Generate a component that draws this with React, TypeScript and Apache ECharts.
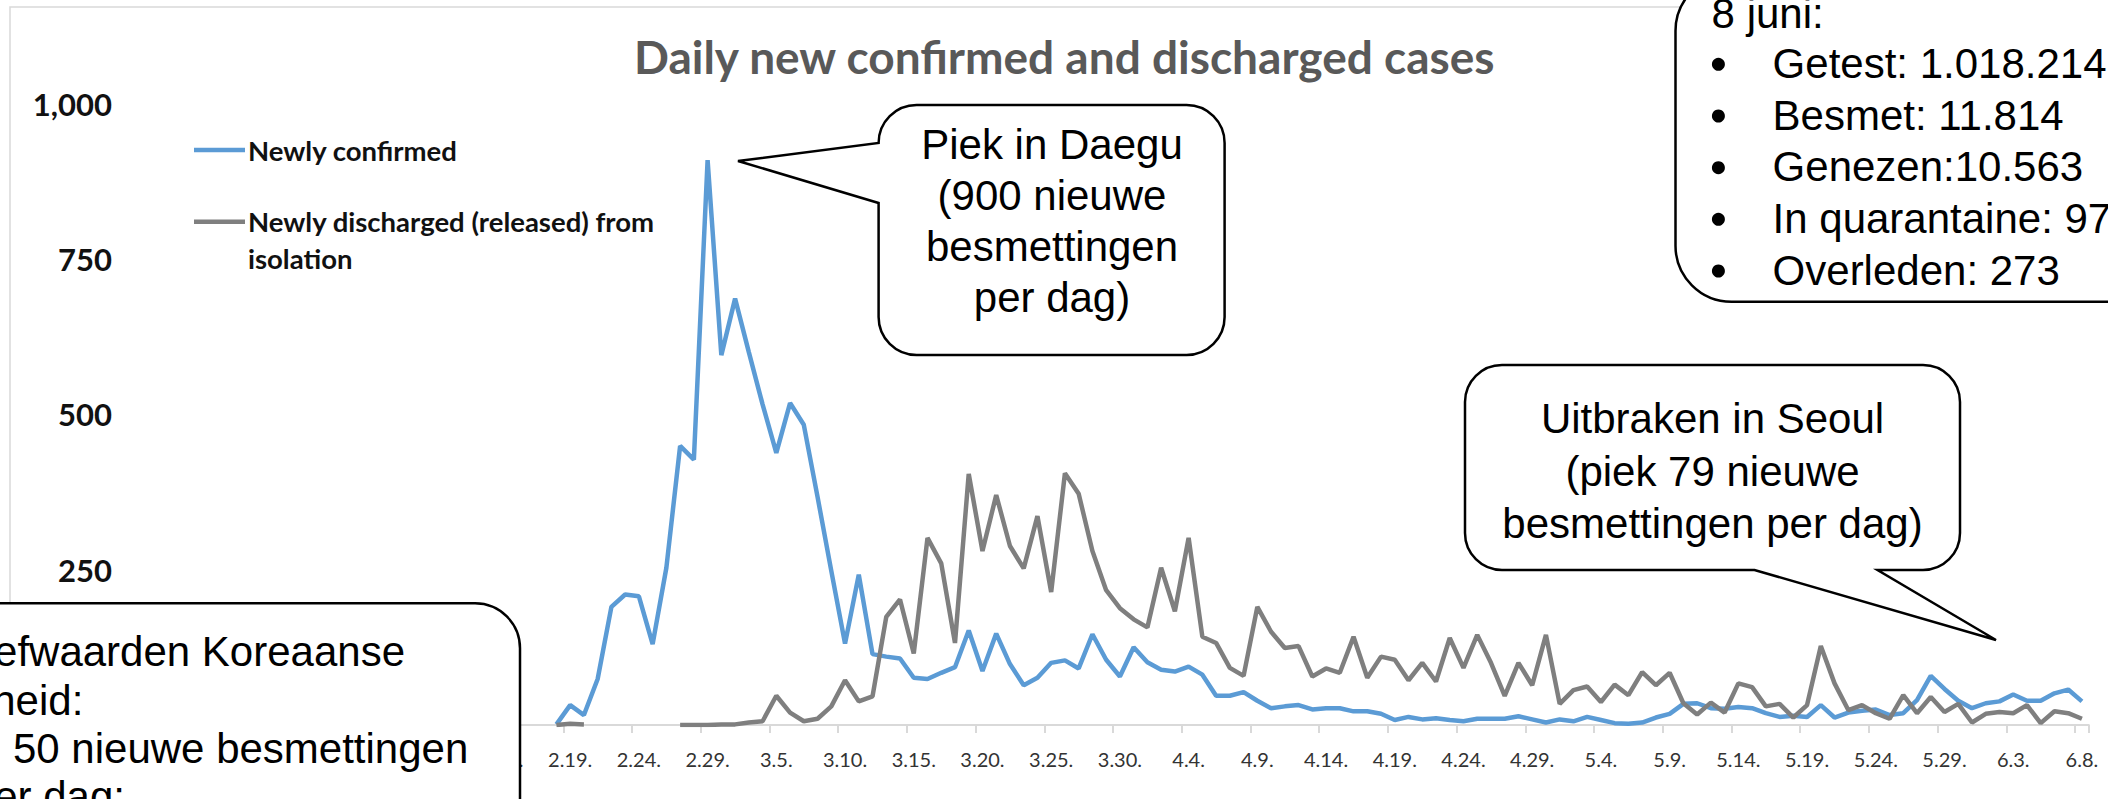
import React, { useEffect, useRef } from 'react';
import * as echarts from 'echarts';

// ---------- categories (x axis) ----------
const JAN_DAYS = [20, 21, 22, 23, 24, 25, 26, 27, 28, 29, 30, 31];
const FEB_DAYS = [1, 2, 3, 4, 5, 6, 7, 8, 9, 10, 11, 12, 13, 14, 15, 16, 17, 18, 19, 20, 21, 22, 23, 24, 25, 26, 27, 28, 29];
const MAR_DAYS = [1, 2, 3, 4, 5, 6, 7, 8, 9, 10, 11, 12, 13, 14, 15, 16, 17, 18, 19, 20, 21, 22, 23, 24, 25, 26, 27, 28, 29, 30, 31];
const APR_DAYS = [1, 2, 3, 4, 5, 6, 7, 8, 9, 10, 11, 12, 13, 14, 15, 16, 17, 18, 19, 20, 21, 22, 23, 24, 25, 26, 27, 28, 29, 30];
const MAY_DAYS = [1, 2, 3, 4, 5, 6, 7, 8, 9, 10, 11, 12, 13, 14, 15, 16, 17, 18, 19, 20, 21, 22, 23, 24, 25, 26, 27, 28, 29, 30, 31];
const JUN_DAYS = [1, 2, 3, 4, 5, 6, 7, 8];

const dates: string[] = [
  ...JAN_DAYS.map((d) => `1.${d}.`),
  ...FEB_DAYS.map((d) => `2.${d}.`),
  ...MAR_DAYS.map((d) => `3.${d}.`),
  ...APR_DAYS.map((d) => `4.${d}.`),
  ...MAY_DAYS.map((d) => `5.${d}.`),
  ...JUN_DAYS.map((d) => `6.${d}.`),
];
const FIRST_DATA_DATE = '2.18.';
const FIRST_VISIBLE_LABEL = '2.14.';

// ---------- series values (from 2.18. to 6.8.) ----------
const confirmedFeb = [1, 32, 16, 74, 190, 210, 207, 130, 253, 449, 427, 909];
const confirmedMar = [595, 686, 600, 516, 438, 518, 483, 367, 248, 131, 242, 114, 110, 107, 76, 74, 84, 93, 152, 87, 147, 98, 64, 76, 100, 104, 91, 146, 105, 78, 125];
const confirmedApr = [101, 89, 86, 94, 81, 47, 47, 53, 39, 27, 30, 32, 25, 27, 27, 22, 22, 18, 8, 13, 9, 11, 8, 6, 10, 10, 10, 14, 9, 4];
const confirmedMay = [9, 6, 13, 8, 3, 2, 4, 12, 18, 34, 35, 27, 26, 29, 27, 19, 13, 15, 13, 32, 12, 20, 23, 25, 16, 19, 40, 79, 58, 39, 27];
const confirmedJun = [35, 38, 49, 39, 39, 51, 57, 38];

const dischargedFeb = [0, 2, 1, null, null, null, null, null, null, 0, 0, 0];
const dischargedMar = [1, 1, 4, 6, 47, 20, 6, 10, 30, 72, 38, 46, 174, 202, 115, 301, 260, 132, 404, 280, 370, 288, 252, 336, 214, 405, 372, 280, 217, 188, 170];
const dischargedApr = [157, 253, 183, 301, 142, 132, 92, 79, 190, 150, 124, 127, 78, 91, 84, 142, 76, 110, 105, 72, 100, 70, 140, 92, 145, 100, 47, 100, 64, 145];
const dischargedMay = [34, 56, 62, 37, 65, 48, 85, 64, 84, 35, 17, 36, 20, 67, 61, 30, 34, 12, 32, 127, 67, 24, 32, 19, 10, 48, 19, 45, 21, 34, 4];
const dischargedJun = [18, 21, 19, 32, 3, 22, 19, 10];

const confirmed: (number | null)[] = [...confirmedFeb, ...confirmedMar, ...confirmedApr, ...confirmedMay, ...confirmedJun];
const discharged: (number | null)[] = [...dischargedFeb, ...dischargedMar, ...dischargedApr, ...dischargedMay, ...dischargedJun];

// ---------- y ticks ----------
const Y_MIN = 0;
const Y_MAX = 1000;
const Y_INTERVAL = 250;

// ---------- texts ----------
const TITLE = 'Daily new confirmed and discharged cases';
const SERIES_NAMES = ['Newly confirmed', 'Newly discharged (released) from isolation'];
const LEGEND_LINES = [['Newly confirmed'], ['Newly discharged (released) from', 'isolation']];
const DAEGU_LINES = ['Piek in Daegu', '(900 nieuwe', 'besmettingen', 'per dag)'];
const SEOUL_LINES = ['Uitbraken in Seoul', '(piek 79 nieuwe', 'besmettingen per dag)'];
const INFO_HEADER = '8 juni:';
const INFO_ITEMS = ['Getest: 1.018.214', 'Besmet: 11.814', 'Genezen:10.563', 'In quarantaine: 978', 'Overleden: 273'];
const TARGET_LINES = ['Streefwaarden Koreaanse', 'overheid:', '< 50 nieuwe besmettingen', 'per dag;'];

const BLUE = '#5b9bd5';
const GRAY = '#7f7f7f';
const CALLOUT_FONT = 'Liberation Sans';

function calloutPath(
  L: number, T: number, R: number, B: number, r: number,
  ptr: { side: 'left' | 'bottom'; a: number; b: number; tx: number; ty: number }
): string {
  const k = 0.5523 * r;
  const f = (n: number) => n.toFixed(2);
  const p: string[] = [];
  p.push(`M${f(L + r)} ${f(T)}`);
  p.push(`L${f(R - r)} ${f(T)}`);
  p.push(`C${f(R - r + k)} ${f(T)} ${f(R)} ${f(T + r - k)} ${f(R)} ${f(T + r)}`);
  p.push(`L${f(R)} ${f(B - r)}`);
  p.push(`C${f(R)} ${f(B - r + k)} ${f(R - r + k)} ${f(B)} ${f(R - r)} ${f(B)}`);
  if (ptr.side === 'bottom') {
    p.push(`L${f(ptr.b)} ${f(B)}`);
    p.push(`L${f(ptr.tx)} ${f(ptr.ty)}`);
    p.push(`L${f(ptr.a)} ${f(B)}`);
  }
  p.push(`L${f(L + r)} ${f(B)}`);
  p.push(`C${f(L + r - k)} ${f(B)} ${f(L)} ${f(B - r + k)} ${f(L)} ${f(B - r)}`);
  if (ptr.side === 'left') {
    p.push(`L${f(L)} ${f(ptr.b)}`);
    p.push(`L${f(ptr.tx)} ${f(ptr.ty)}`);
    p.push(`L${f(L)} ${f(ptr.a)}`);
  }
  p.push(`L${f(L)} ${f(T + r)}`);
  p.push(`C${f(L)} ${f(T + r - k)} ${f(L + r - k)} ${f(T)} ${f(L + r)} ${f(T)}`);
  p.push('Z');
  return p.join(' ');
}

const daeguD = calloutPath(878.6, 105, 1224.6, 355, 38, { side: 'left', a: 143, b: 203, tx: 738, ty: 161 });
const seoulD = calloutPath(1465, 365, 1960, 570, 37, { side: 'bottom', a: 1754.5, b: 1877.5, tx: 1996, ty: 640 });

echarts.graphic.registerShape('calloutDaegu', echarts.graphic.extendPath(daeguD, {}) as any);
echarts.graphic.registerShape('calloutSeoul', echarts.graphic.extendPath(seoulD, {}) as any);

function txt(text: string, x: number, y: number, opts: any = {}) {
  const align = opts.align || 'left';
  const valign = opts.valign || 'middle';
  return {
    type: 'text',
    z: 110,
    silent: true,
    x,
    y,
    style: {
      text,
      fill: opts.fill || '#000',
      fontSize: opts.fontSize || 42,
      fontFamily: opts.fontFamily || CALLOUT_FONT,
      fontWeight: opts.fontWeight || 'normal',
      lineHeight: opts.lineHeight,
      align,
      textAlign: align,
      verticalAlign: valign,
      textVerticalAlign: valign,
    },
  };
}

function buildOption() {
  const start = dates.indexOf(FIRST_DATA_DATE);
  const firstLabel = dates.indexOf(FIRST_VISIBLE_LABEL);
  const dataDates = dates.slice(start, start + confirmed.length);
  const confirmedData = dataDates.map((d, i) => [d, confirmed[i] == null ? '-' : confirmed[i]]);
  const dischargedData = dataDates.map((d, i) => [d, discharged[i] == null ? '-' : discharged[i]]);

  const boxStyle = { fill: '#ffffff', stroke: '#000000', lineWidth: 2.5 };

  const infoLineY = [63.3, 115, 166.7, 218.3, 270];

  const elements: any[] = [
    // outer chart frame
    { type: 'rect', z: 0, silent: true, shape: { x: 10, y: 7, width: 2300, height: 1000 }, style: { fill: 'none', stroke: '#d9d9d9', lineWidth: 1.5 } },
    // legend
    { type: 'line', z: 5, silent: true, shape: { x1: 194, y1: 150, x2: 245, y2: 150 }, style: { stroke: BLUE, lineWidth: 4.5 } },
    txt(LEGEND_LINES[0][0], 248, 150, { fontFamily: 'Lato', fontWeight: 'bold', fontSize: 27.5, fill: '#111' }),
    { type: 'line', z: 5, silent: true, shape: { x1: 194, y1: 221.7, x2: 245, y2: 221.7 }, style: { stroke: GRAY, lineWidth: 4.5 } },
    txt(LEGEND_LINES[1].join('\n'), 248, 203.4, { fontFamily: 'Lato', fontWeight: 'bold', fontSize: 27.5, fill: '#111', valign: 'top', lineHeight: 36.6 }),
    // Daegu callout
    { type: 'calloutDaegu', z: 100, silent: true, style: boxStyle },
    txt(DAEGU_LINES.join('\n'), 1052, 221, { align: 'center', lineHeight: 51 }),
    // Seoul callout
    { type: 'calloutSeoul', z: 100, silent: true, style: boxStyle },
    txt(SEOUL_LINES.join('\n'), 1712.5, 471, { align: 'center', lineHeight: 52.5 }),
    // info box (top right)
    { type: 'rect', z: 100, silent: true, shape: { x: 1675.5, y: -25, width: 700, height: 326.7, r: 56 }, style: boxStyle },
    txt(INFO_HEADER, 1711.6, 13.3),
    // target box (bottom left)
    { type: 'rect', z: 100, silent: true, shape: { x: -60, y: 603.3, width: 580, height: 400, r: 45 }, style: boxStyle },
    txt(TARGET_LINES[0], 405, 651.7, { align: 'right' }),
    txt(TARGET_LINES[1], 83.3, 700, { align: 'right' }),
    txt(TARGET_LINES[2], 468.3, 748.3, { align: 'right' }),
    txt(TARGET_LINES[3], 125, 796.7, { align: 'right' }),
  ];
  INFO_ITEMS.forEach((item, i) => {
    elements.push({ type: 'circle', z: 110, silent: true, shape: { cx: 1718.4, cy: infoLineY[i] + 1, r: 6.5 }, style: { fill: '#000' } });
    elements.push(txt(item, 1772.6, infoLineY[i]));
  });

  return {
    animation: false,
    backgroundColor: '#ffffff',
    title: {
      text: TITLE,
      left: 629,
      top: 28,
      padding: 5,
      textStyle: { fontFamily: 'Lato', fontWeight: 'bold', fontSize: 46, color: '#595959' },
    },
    grid: { left: 151, right: 19.2, top: 103.5, bottom: 74, containLabel: false, outerBoundsMode: 'none' },
    xAxis: {
      type: 'category',
      data: dates,
      boundaryGap: true,
      axisLine: { show: true, lineStyle: { color: '#d9d9d9', width: 2 } },
      axisTick: { show: true, interval: 4, length: 8, lineStyle: { color: '#d9d9d9', width: 2 } },
      axisLabel: {
        interval: (index: number) => index >= firstLabel && index % 5 === 0,
        margin: 24,
        fontFamily: 'Lato',
        fontSize: 20,
        color: '#333333',
      },
      splitLine: { show: false },
    },
    yAxis: {
      type: 'value',
      min: Y_MIN,
      max: Y_MAX,
      interval: Y_INTERVAL,
      axisLine: { show: false },
      axisTick: { show: false },
      splitLine: { show: false },
      axisLabel: {
        margin: 39,
        showMinLabel: false,
        fontFamily: 'Lato',
        fontWeight: 'bold',
        fontSize: 31,
        color: '#111',
        formatter: (v: number) => v.toLocaleString('en-US'),
      },
    },
    series: [
      {
        name: SERIES_NAMES[0],
        type: 'line',
        data: confirmedData,
        symbol: 'none',
        lineStyle: { color: BLUE, width: 4.5 },
        itemStyle: { color: BLUE },
      },
      {
        name: SERIES_NAMES[1],
        type: 'line',
        data: dischargedData,
        symbol: 'none',
        lineStyle: { color: GRAY, width: 4.5 },
        itemStyle: { color: GRAY },
      },
    ],
    graphic: { elements },
  };
}

export default function App() {
  const ref = useRef<HTMLDivElement>(null);
  useEffect(() => {
    if (!ref.current) return;
    const chart = echarts.init(ref.current, undefined, { renderer: 'svg', width: 2108, height: 799 });
    chart.setOption(buildOption() as any);
    return () => chart.dispose();
  }, []);
  return (
    <div
      ref={ref}
      style={{ position: 'absolute', left: 0, top: 0, width: 2108, height: 799, background: '#fff', overflow: 'hidden' }}
    />
  );
}
